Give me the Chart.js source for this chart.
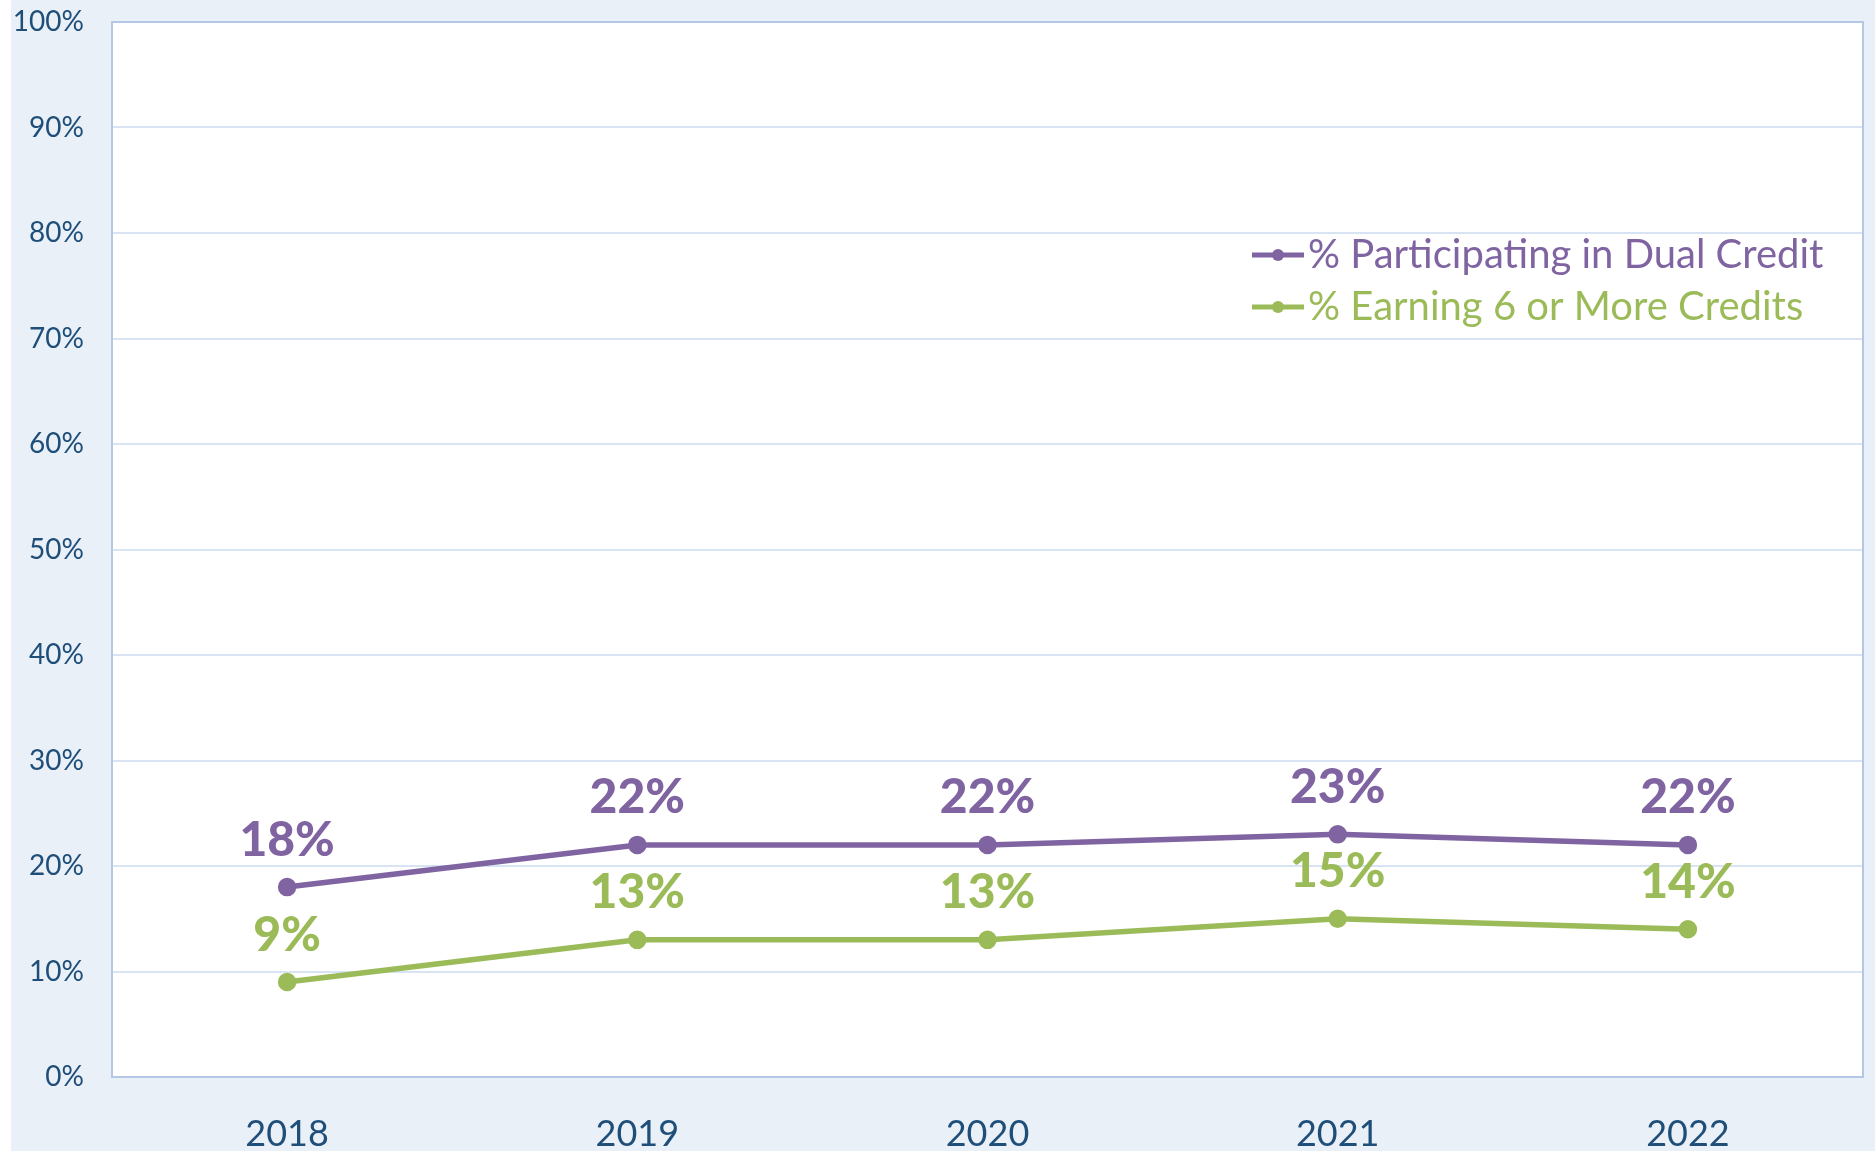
<!DOCTYPE html>
<html>
<head>
<meta charset="utf-8">
<script src="https://cdn.jsdelivr.net/npm/chart.js@4"></script>
<style>
  html, body { margin: 0; padding: 0; background: #ffffff; }
  #wrap { position: absolute; left: 11px; top: 0; width: 1864px; height: 1151px; }
</style>
</head>
<body>
<div id="wrap"><canvas id="grafica"></canvas></div>
<script>
// datos
const anios = ['2018', '2019', '2020', '2021', '2022'];
const dualCredit = [18, 22, 22, 23, 22];
const seisCreditos = [9, 13, 13, 15, 14];
const etiquetasSerie = ['% Participating in Dual Credit', '% Earning 6 or More Credits'];
const coloresSerie = ['#8064a2', '#9bbb59'];

const azulTexto = '#1f4e79';

// fondo azul claro y area blanca con borde
const fondoPlugin = {
    id: 'fondo',
    beforeDraw(chart) {
        const { ctx, chartArea: a } = chart;
        ctx.save();
        ctx.fillStyle = '#e9f0f8';
        ctx.fillRect(0, 0, chart.width, chart.height);
        ctx.fillStyle = '#ffffff';
        ctx.fillRect(a.left, a.top, a.right - a.left, a.bottom - a.top);
        ctx.restore();
    },
    beforeDatasetsDraw(chart) {
        const { ctx, chartArea: a } = chart;
        ctx.save();
        ctx.strokeStyle = '#b4c8e6';
        ctx.lineWidth = 2;
        ctx.strokeRect(a.left, a.top, a.right - a.left, a.bottom - a.top);
        ctx.restore();
    }
};

// etiquetas de valor encima de cada punto
const etiquetasPlugin = {
    id: 'etiquetas',
    afterDatasetsDraw(chart) {
        const ctx = chart.ctx;
        ctx.save();
        ctx.font = '900 48px Lato';
        ctx.textAlign = 'center';
        ctx.textBaseline = 'middle';
        chart.data.datasets.forEach((ds, i) => {
            const meta = chart.getDatasetMeta(i);
            ctx.fillStyle = ds.borderColor;
            meta.data.forEach((p, j) => {
                ctx.fillText(ds.data[j] + '%', p.x, p.y - 47);
            });
        });
        ctx.restore();
    }
};

// leyenda dentro del area del grafico
const leyendaPlugin = {
    id: 'leyenda',
    afterDraw(chart) {
        const { ctx, chartArea: a } = chart;
        const x0 = a.right - 611;
        const filas = [a.top + 233, a.top + 285];
        ctx.save();
        ctx.font = '40px Lato';
        ctx.textBaseline = 'middle';
        etiquetasSerie.forEach((txt, i) => {
            const y = filas[i];
            ctx.strokeStyle = coloresSerie[i];
            ctx.lineWidth = 5;
            ctx.beginPath();
            ctx.moveTo(x0, y);
            ctx.lineTo(x0 + 52, y);
            ctx.stroke();
            ctx.fillStyle = coloresSerie[i];
            ctx.beginPath();
            ctx.arc(x0 + 26, y, 6, 0, Math.PI * 2);
            ctx.fill();
            ctx.fillText(txt, x0 + 56, y);
        });
        ctx.restore();
    }
};

const ctx = document.getElementById('grafica').getContext('2d');

new Chart(ctx, {
    type: 'line',
    data: {
        labels: anios,
        datasets: [
            {
                label: etiquetasSerie[0], data: dualCredit,
                borderColor: coloresSerie[0], backgroundColor: coloresSerie[0],
                borderWidth: 5.5, pointRadius: 6.5, pointHoverRadius: 6.5
            },
            {
                label: etiquetasSerie[1], data: seisCreditos,
                borderColor: coloresSerie[1], backgroundColor: coloresSerie[1],
                borderWidth: 5.5, pointRadius: 6.5, pointHoverRadius: 6.5
            }
        ]
    },
    options: {
        responsive: true,
        maintainAspectRatio: false,
        animation: false,
        layout: { padding: { top: 22, right: 12, left: 0, bottom: 0 } },
        plugins: {
            legend: { display: false },
            tooltip: { enabled: false }
        },
        scales: {
            x: {
                offset: true,
                grid: { display: false },
                border: { display: false },
                ticks: {
                    color: azulTexto,
                    font: { family: 'Lato', size: 36 },
                    padding: 28
                },
                afterFit(scale) { scale.height = 74; }
            },
            y: {
                min: 0,
                max: 100,
                // marcas transparentes para separar las etiquetas sin empujar el area
                grid: { color: '#d8e4f3', lineWidth: 2, drawTicks: true, tickLength: 24, tickColor: 'rgba(0,0,0,0)' },
                border: { display: false },
                ticks: {
                    stepSize: 10,
                    color: azulTexto,
                    font: { family: 'Lato', size: 28 },
                    padding: 4,
                    callback: v => v + '%'
                },
                afterFit(scale) { scale.width = 101; }
            }
        }
    },
    plugins: [fondoPlugin, etiquetasPlugin, leyendaPlugin]
});
</script>
</body>
</html>
